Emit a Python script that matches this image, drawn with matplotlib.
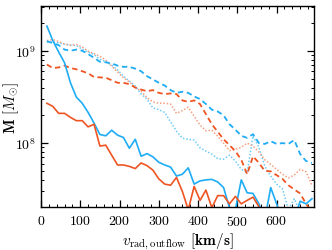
#Masa de outflow en funcion de la velocidad radial
import numpy as np
import matplotlib
matplotlib.use('Agg')
import matplotlib.pyplot as plt
from matplotlib.ticker import MultipleLocator, LogLocator, NullFormatter

plt.rcParams['font.family'] = 'serif'
plt.rcParams['font.serif'] = ['cmr10']
plt.rcParams['mathtext.fontset'] = 'cm'
plt.rcParams['axes.formatter.use_mathtext'] = True

# Centros de los bins de velocidad [km/s]
v_rad = np.arange(15, 691, 15)

# Masas [Msun]
azul_solido = [1.85e9, 1.29e9, 9.7e8, 7.4e8, 4.5e8, 3.15e8, 2.7e8, 2.15e8, 1.65e8, 1.24e8,
               1.2e8, 1.38e8, 1.22e8, 1.15e8, 8.8e7, 1.1e8, 7.2e7, 7.7e7, 7.1e7, 6.2e7,
               5.8e7, 5.5e7, 4.4e7, 4.6e7, 5.4e7, 3.6e7, 3.9e7, 4.0e7, 4.05e7, 3.8e7,
               3.3e7, 2.0e7, 1.9e7, 4.0e7, 2.9e7, 2.85e7, 2.2e7, 1.5e7, 3.3e7, 2.2e7,
               1.5e7, 1.5e7, 1.5e7, 2.35e7, 2.2e7, 2.5e7]
naranja_solido = [2.7e8, 2.5e8, 2.1e8, 2.1e8, 1.9e8, 1.75e8, 1.75e8, 1.5e8, 1.6e8, 9.3e7,
                  9.5e7, 7.4e7, 5.8e7, 5.8e7, 5.6e7, 5.3e7, 6.1e7, 5.7e7, 5.1e7, 4.1e7,
                  3.6e7, 3.5e7, 4.25e7, 3.0e7, 1.9e7, 3.4e7, 2.4e7, 3.1e7, 2.0e7, 2.7e7,
                  2.7e7, 2.2e7, 2.65e7, 2.2e7, 2.4e7, 2.6e7, 2.05e7, 1.5e7, 1.5e7, 1.5e7,
                  1.5e7, 1.5e7, 1.5e7, 1.5e7, 1.5e7, 1.5e7]
azul_guiones = [1.27e9, 1.21e9, 1.15e9, 1.03e9, 1.0e9, 1.03e9, 1.0e9, 9.2e8, 8.4e8, 7.6e8,
                7.5e8, 7.3e8, 6.9e8, 6.7e8, 6.7e8, 6.4e8, 6.0e8, 5.3e8, 4.9e8, 4.5e8,
                4.2e8, 3.75e8, 3.5e8, 3.6e8, 3.5e8, 3.2e8, 3.0e8, 2.65e8, 2.3e8, 2.2e8,
                2.0e8, 1.6e8, 1.4e8, 1.2e8, 1.14e8, 1.25e8, 1.0e8, 9.8e7, 1.05e8, 9.8e7,
                1.0e8, 9.8e7, 1.08e8, 7.6e7, 6.4e7, 6.1e7]
naranja_guiones = [7.1e8, 6.5e8, 6.6e8, 6.9e8, 6.5e8, 6.3e8, 6.0e8, 5.7e8, 5.2e8, 5.15e8,
                   5.1e8, 4.8e8, 4.5e8, 4.5e8, 4.35e8, 4.0e8, 3.8e8, 3.65e8, 3.75e8, 3.5e8,
                   3.4e8, 3.45e8, 3.4e8, 2.9e8, 2.8e8, 2.9e8, 2.65e8, 2.06e8, 1.6e8, 1.33e8,
                   1.1e8, 9.5e7, 8.2e7, 6.6e7, 4.6e7, 7.2e7, 6.1e7, 5.0e7, 4.95e7, 4.5e7,
                   4.1e7, 3.5e7, 3.15e7, 2.85e7, 2.2e7, 1.8e7]
azul_puntos = [1.24e9, 1.24e9, 1.22e9, 1.18e9, 1.15e9, 1.14e9, 1.04e9, 9.7e8, 9.1e8, 8.1e8,
               7.6e8, 7.0e8, 6.2e8, 5.3e8, 4.7e8, 4.15e8, 3.4e8, 3.0e8, 2.4e8, 2.3e8,
               2.15e8, 1.7e8, 1.35e8, 1.13e8, 1.1e8, 1.08e8, 8.9e7, 8.2e7, 7.6e7, 6.8e7,
               6.7e7, 7.4e7, 6.4e7, 5.2e7, 4.8e7, 1.2e8, 9.0e7, 5.6e7, 4.4e7, 3.6e7,
               3.2e7, 1.9e7, 2.5e7, 1.8e7, 1.8e7, 2.0e7]
naranja_puntos = [1.29e9, 1.32e9, 1.26e9, 1.18e9, 1.15e9, 1.17e9, 1.1e9, 9.9e8, 9.3e8, 8.7e8,
                  7.9e8, 6.8e8, 5.9e8, 5.1e8, 4.6e8, 4.0e8, 3.65e8, 3.1e8, 2.8e8, 2.7e8,
                  2.7e8, 2.65e8, 2.1e8, 2.25e8, 2.45e8, 1.95e8, 1.57e8, 1.36e8, 1.38e8, 1.19e8,
                  1.0e8, 8.3e7, 8.6e7, 9.0e7, 1.0e8, 9.3e7, 8.0e7, 6.6e7, 5.9e7, 5.2e7,
                  4.6e7, 4.2e7, 4.5e7, 5.2e7, 4.9e7, 3.5e7]

azul = '#1EACF4'
naranja = '#EE5522'
azul_claro = '#6FCBF7'
naranja_claro = '#F6A080'

fig = plt.figure(figsize=(3.32, 2.51), dpi=100)
ax = fig.add_axes([0.1235, 0.171, 0.822, 0.801])

ax.plot(v_rad, azul_puntos, color=azul_claro, lw=1.1, ls=(0, (1, 1.2)))
ax.plot(v_rad, naranja_puntos, color=naranja_claro, lw=1.1, ls=(0, (1, 1.2)))
ax.plot(v_rad, azul_guiones, color=azul, lw=1.3, ls=(0, (3, 2)))
ax.plot(v_rad, naranja_guiones, color=naranja, lw=1.3, ls=(0, (3, 2)))
ax.plot(v_rad, azul_solido, color=azul, lw=1.2)
ax.plot(v_rad, naranja_solido, color=naranja, lw=1.2)

ax.set_yscale('log')
ax.set_xlim(0, 695)
ax.set_ylim(2.03e7, 3.05e9)
ax.xaxis.set_major_locator(MultipleLocator(100))
ax.xaxis.set_minor_locator(MultipleLocator(20))
ax.yaxis.set_major_locator(LogLocator(base=10))
ax.yaxis.set_minor_locator(LogLocator(base=10, subs=np.arange(2, 10)))
ax.yaxis.set_minor_formatter(NullFormatter())
ax.tick_params(which='both', direction='in', top=True, right=True, labelsize=10)
ax.tick_params(which='major', length=5, width=0.9)
ax.tick_params(which='minor', length=2.5, width=0.7)
ax.tick_params(axis='x', pad=5)
for lado in ax.spines.values():
    lado.set_linewidth(1.0)

ax.set_xlabel(r'$v_{\rm rad,outflow}$ $\mathbf{[km/s]}$', fontsize=11, labelpad=2)
ax.set_ylabel(r'$\mathbf{M}$ $[M_{\odot}]$', fontsize=11)
ax.yaxis.set_label_coords(-0.072, 0.5)

plt.savefig('out.png', dpi=100)
